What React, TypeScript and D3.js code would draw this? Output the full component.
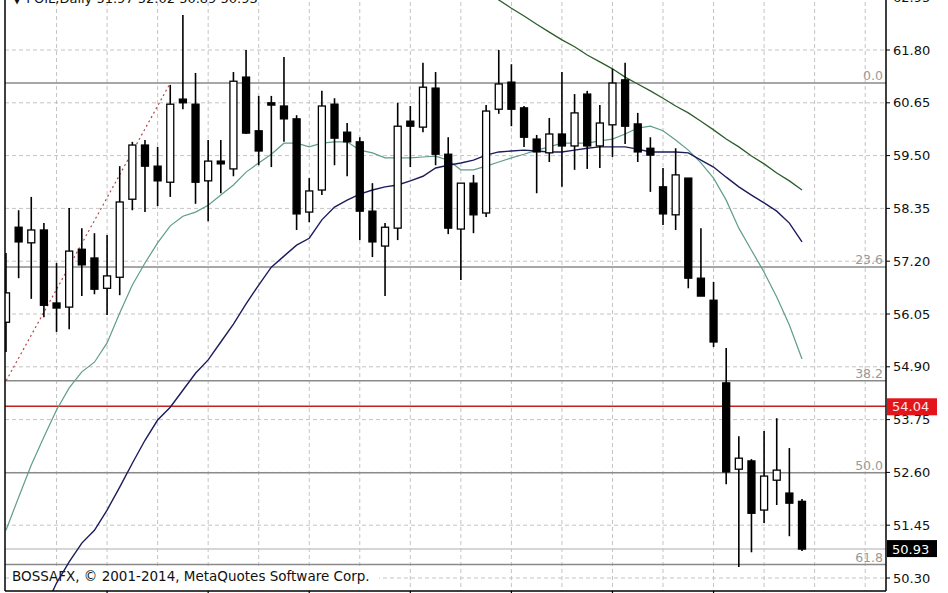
import React from "react";
import { scaleLinear, line } from "d3";

// daily candles (64 bars)
const opens = [
  55.87, 57.94, 57.6, 57.88, 56.29, 56.2, 57.46, 57.27, 56.61, 56.85,
  58.55, 59.73, 59.27, 58.92, 60.73, 60.62, 58.95, 59.38, 59.21, 61.21,
  60.04, 60.65, 60.58, 60.3, 58.27, 58.75, 60.62, 60.01, 59.8, 58.29,
  57.53, 57.92, 60.25, 60.12, 60.97, 59.53, 57.9, 58.9, 58.25, 60.51,
  61.1, 60.54, 59.86, 59.56, 59.97, 59.71, 60.84, 59.71, 60.17, 61.15,
  60.19, 59.66, 58.82, 58.21, 59.01, 56.83, 56.35, 54.55, 52.67, 52.85,
  51.78, 52.43, 52.15, 51.97,
];
const highs = [
  57.38, 58.31, 58.6, 58.03, 57.16, 58.36, 57.92, 57.81, 57.77, 59.27,
  59.8, 59.84, 59.69, 61.04, 62.56, 61.3, 59.84, 59.84, 61.32, 61.8,
  60.8, 60.8, 61.65, 60.38, 59.01, 60.91, 60.75, 60.21, 59.9, 58.9,
  58.03, 60.65, 60.58, 61.52, 61.32, 59.9, 58.9, 59.08, 60.6, 61.8,
  61.49, 60.58, 59.95, 60.32, 61.32, 60.84, 60.91, 60.6, 61.39, 61.52,
  60.43, 59.9, 59.23, 59.66, 59.01, 57.92, 56.75, 55.31, 53.39, 52.89,
  53.5, 53.78, 53.13, 52.02,
];
const lows = [
  55.22, 56.83, 56.38, 55.98, 55.66, 55.72, 56.44, 56.48, 56.03, 56.46,
  58.31, 58.27, 58.4, 58.6, 60.51, 58.45, 58.07, 58.68, 59.05, 59.97,
  59.29, 59.25, 59.8, 57.88, 58.05, 58.64, 59.29, 59.05, 57.66, 57.29,
  56.44, 57.66, 59.25, 60.01, 59.29, 57.79, 56.79, 57.81, 58.16, 60.41,
  60.14, 59.69, 58.68, 59.36, 58.82, 59.19, 59.21, 59.23, 59.47, 59.75,
  59.36, 58.71, 57.99, 57.88, 56.61, 56.44, 55.33, 52.34, 50.54, 50.86,
  51.5, 51.89, 51.21, 50.89,
];
const closes = [
  56.51, 57.62, 57.88, 56.24, 56.18, 57.42, 57.12, 56.59, 56.88, 58.49,
  59.73, 59.27, 58.95, 60.62, 60.65, 58.92, 59.38, 59.32, 61.12, 59.99,
  59.6, 60.6, 60.3, 58.23, 58.73, 60.58, 59.88, 59.8, 58.29, 57.62,
  57.94, 60.14, 60.14, 60.99, 59.53, 57.92, 58.9, 58.21, 60.47, 61.06,
  60.51, 59.9, 59.58, 59.97, 59.71, 60.43, 59.71, 60.21, 61.08, 60.14,
  59.58, 59.51, 58.23, 59.08, 56.83, 56.44, 55.44, 52.61, 52.91, 51.71,
  52.52, 52.65, 51.93, 50.93,
];

// moving averages (first bar index + values)
const fastMaStart = 0;
const fastMa = [
  51.34, 52.06, 52.76, 53.37, 53.96, 54.44, 54.79, 55.0, 55.42, 56.07,
  56.68, 57.16, 57.6, 57.97, 58.18, 58.27, 58.42, 58.64, 58.86, 59.14,
  59.34, 59.53, 59.77, 59.77, 59.69, 59.77, 59.8, 59.8, 59.62, 59.56,
  59.45, 59.45, 59.45, 59.47, 59.49, 59.4, 59.19, 59.19, 59.27, 59.36,
  59.45, 59.53, 59.62, 59.69, 59.77, 59.77, 59.77, 59.82, 59.86, 59.97,
  60.1, 60.14, 60.04, 59.84, 59.62, 59.34, 59.01, 58.53, 57.92, 57.44,
  56.96, 56.42, 55.81, 55.07,
];
const slowMaStart = 3;
const slowMa = [
  49.6, 50.19, 50.65, 51.06, 51.34, 51.78, 52.28, 52.8, 53.3, 53.74,
  54.02, 54.39, 54.76, 55.05, 55.44, 55.83, 56.27, 56.68, 57.07, 57.31,
  57.55, 57.7, 58.1, 58.38, 58.53, 58.66, 58.75, 58.82, 58.86, 58.95,
  59.05, 59.23, 59.29, 59.34, 59.4, 59.51, 59.58, 59.6, 59.62, 59.6,
  59.58, 59.58, 59.62, 59.66, 59.69, 59.69, 59.69, 59.64, 59.58, 59.58,
  59.58, 59.56, 59.4, 59.25, 59.03, 58.82, 58.64, 58.47, 58.29, 58.03,
  57.62,
];
const longMaStart = 38;
const longMa = [
  63.06, 62.89, 62.71, 62.54, 62.36, 62.19, 62.02, 61.87, 61.69, 61.54,
  61.39, 61.21, 61.06, 60.91, 60.75, 60.58, 60.43, 60.25, 60.06, 59.86,
  59.69, 59.49, 59.32, 59.12, 58.95, 58.75,
];

const priceTicks = [
  "62.95", "61.80", "60.65", "59.50", "58.35", "57.20",
  "56.05", "54.90", "53.75", "52.60", "51.45", "50.30",
];
const fibRatios = [0, 23.6, 38.2, 50.0, 61.8];
const fibHigh = { bar: 13, price: 61.08 };
const fibLow = { bar: -21, price: 44.11 };
const levelPrice = 54.04;
const bidPrice = 50.93;
const headerText = "▼ POIL,Daily  51.97 52.02 50.89 50.93";
const copyrightText = "BOSSAFX, © 2001-2014, MetaQuotes Software Corp.";

const W = 948;
const H = 593;
const LEFT = 5;
const RIGHT = 886;
const BOTTOM = 591;
const FONT = "'DejaVu Sans', Tahoma, sans-serif";

export default function App() {
  const x = scaleLinear().domain([0, 63]).range([6, 802]);
  const y = scaleLinear().domain([50.3, 61.8]).range([578, 50]);
  const bodyW = 7;

  const maPath = (start: number, vals: number[]) =>
    line<number>()
      .x((_, i) => x(start + i))
      .y((d) => y(d))(vals) || "";

  const gridBars: number[] = [];
  for (let b = 4; b <= 68; b += 4) gridBars.push(b);
  const tickBars = [8, 16, 24, 32, 40, 48, 56];

  const fibRange = fibHigh.price - fibLow.price;

  return (
    <div style={{ position: "absolute", left: 0, top: 0 }}>
      <svg width={W} height={H} style={{ display: "block", background: "#fff" }}>
        <defs>
          <clipPath id="plot">
            <rect x={LEFT} y={-20} width={RIGHT - LEFT} height={BOTTOM + 20} />
          </clipPath>
        </defs>

        {/* grid */}
        <g stroke="#c4c4c4" strokeWidth={1} strokeDasharray="4,3">
          {priceTicks.map((t) => (
            <line key={t} x1={LEFT} x2={RIGHT} y1={y(+t)} y2={y(+t)} />
          ))}
          {gridBars.map((b) => (
            <line key={b} x1={x(b)} x2={x(b)} y1={-5} y2={BOTTOM} />
          ))}
        </g>

        {/* copyright label */}
        <rect x={9} y={566} width={370} height={22} fill="#fff" />
        <text x={12} y={581} fontFamily={FONT} fontSize={13.5} fill="#111">
          {copyrightText}
        </text>

        <g clipPath="url(#plot)">
          {/* fibonacci levels */}
          {fibRatios.map((r) => {
            const p = fibHigh.price - (r / 100) * fibRange;
            return (
              <g key={r}>
                <line x1={LEFT} x2={RIGHT} y1={y(p)} y2={y(p)} stroke="#8a8a8a" strokeWidth={1.5} />
                <text
                  x={RIGHT - 3}
                  y={y(p) - 3}
                  textAnchor="end"
                  fontFamily={FONT}
                  fontSize={12.5}
                  fill="#9a9a9a"
                >
                  {r.toFixed(1)}
                </text>
              </g>
            );
          })}
          <line
            x1={x(fibLow.bar)}
            y1={y(fibLow.price)}
            x2={x(fibHigh.bar)}
            y2={y(fibHigh.price)}
            stroke="#b04848"
            strokeWidth={1.2}
            strokeDasharray="2,3"
          />

          {/* bid line and horizontal level */}
          <line x1={LEFT} x2={RIGHT} y1={y(bidPrice)} y2={y(bidPrice)} stroke="#c8c8c8" strokeWidth={1.5} />
          <line x1={LEFT} x2={RIGHT} y1={y(levelPrice)} y2={y(levelPrice)} stroke="#c42020" strokeWidth={1.5} />

          {/* moving averages */}
          <path d={maPath(fastMaStart, fastMa)} fill="none" stroke="#5f9c8c" strokeWidth={1.2} />
          <path d={maPath(slowMaStart, slowMa)} fill="none" stroke="#1c1c5c" strokeWidth={1.4} />
          <path d={maPath(longMaStart, longMa)} fill="none" stroke="#2c5e2c" strokeWidth={1.3} />

          {/* candles */}
          {opens.map((o, i) => {
            const c = closes[i];
            const up = c >= o;
            const top = y(Math.max(o, c));
            const h = Math.max(1.5, y(Math.min(o, c)) - top);
            return (
              <g key={i}>
                <line x1={x(i)} x2={x(i)} y1={y(highs[i])} y2={y(lows[i])} stroke="#000" strokeWidth={1.6} />
                <rect
                  x={x(i) - bodyW / 2}
                  y={top}
                  width={bodyW}
                  height={h}
                  fill={up ? "#fff" : "#000"}
                  stroke="#000"
                  strokeWidth={1.3}
                />
              </g>
            );
          })}
        </g>

        {/* frame */}
        <line x1={LEFT} x2={LEFT} y1={0} y2={BOTTOM} stroke="#000" strokeWidth={1.5} />
        <line x1={RIGHT} x2={RIGHT} y1={0} y2={BOTTOM} stroke="#000" strokeWidth={1.5} />
        <line x1={LEFT} x2={RIGHT} y1={BOTTOM} y2={BOTTOM} stroke="#000" strokeWidth={1.5} />
        {tickBars.map((b) => (
          <line key={b} x1={x(b)} x2={x(b)} y1={BOTTOM} y2={BOTTOM + 5} stroke="#000" strokeWidth={1.2} />
        ))}

        {/* price axis */}
        {priceTicks.map((t) => (
          <g key={t}>
            <line x1={RIGHT} x2={RIGHT + 4} y1={y(+t)} y2={y(+t)} stroke="#000" />
            <text x={893} y={y(+t) + 4.5} fontFamily={FONT} fontSize={13} fill="#111">
              {t}
            </text>
          </g>
        ))}
        <rect x={887} y={y(levelPrice) - 8} width={50} height={17} fill="#e3141c" />
        <text x={892} y={y(levelPrice) + 4.5} fontFamily={FONT} fontSize={13} fill="#ffe6e6">
          {levelPrice.toFixed(2)}
        </text>
        <rect x={887} y={y(bidPrice) - 9} width={50} height={17} fill="#000" />
        <text x={892} y={y(bidPrice) + 4.5} fontFamily={FONT} fontSize={13} fill="#fff">
          {bidPrice.toFixed(2)}
        </text>

        {/* header */}
        <text x={12} y={3} fontFamily={FONT} fontSize={13} fill="#111">
          {headerText}
        </text>
      </svg>
    </div>
  );
}
